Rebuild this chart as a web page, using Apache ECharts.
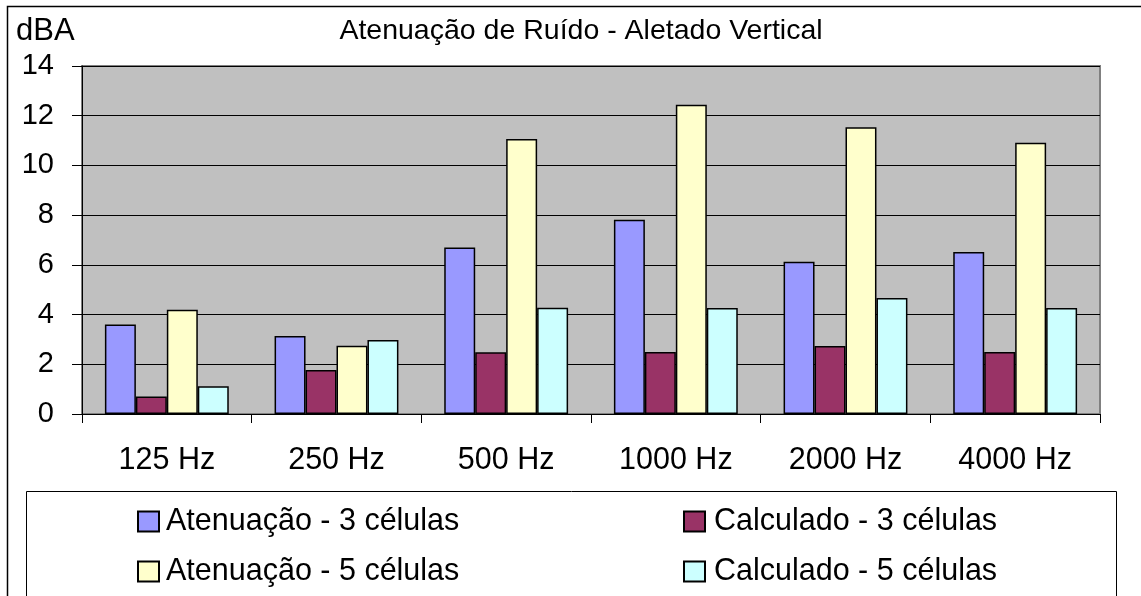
<!DOCTYPE html>
<html>
<head>
<meta charset="utf-8">
<script src="https://cdn.jsdelivr.net/npm/echarts@6/dist/echarts.min.js"></script>
<style>html,body{margin:0;padding:0;background:#fff}#c{width:1141px;height:596px}</style>
</head>
<body>
<div id="c"></div>
<script>
const categories = ['125 Hz', '250 Hz', '500 Hz', '1000 Hz', '2000 Hz', '4000 Hz'];
const atenuacao3 = [3.6, 3.14, 6.7, 7.81, 6.13, 6.52];
const calculado3 = [0.7, 1.77, 2.48, 2.49, 2.74, 2.49];
const atenuacao5 = [4.19, 2.75, 11.06, 12.44, 11.54, 10.91];
const calculado5 = [1.12, 2.98, 4.27, 4.26, 4.67, 4.26];
const seriesNames = ['Atenuação - 3 células', 'Calculado - 3 células', 'Atenuação - 5 células', 'Calculado - 5 células'];
const yTicks = { min: 0, max: 14, interval: 2 };

const FONT = '"Liberation Sans", Arial, sans-serif';
const colors = ['#9999FF', '#993366', '#FFFFCC', '#CCFFFF'];
const dataSets = [atenuacao3, calculado3, atenuacao5, calculado5];

const chart = echarts.init(document.getElementById('c'), null, { renderer: 'canvas' });

const legendPos = [
  { left: 137, top: 506, gap: 7 },
  { left: 683, top: 506, gap: 9 },
  { left: 137, top: 556, gap: 7 },
  { left: 683, top: 556, gap: 9 }
];

const option = {
  animation: false,
  backgroundColor: '#ffffff',
  textStyle: { fontFamily: FONT, color: '#000' },
  grid: {
    left: 82, top: 66, right: 41, bottom: 182,
    show: true, backgroundColor: '#c0c0c0', borderColor: '#808080', borderWidth: 2
  },
  xAxis: {
    type: 'category',
    data: categories,
    axisLine: { show: true, lineStyle: { color: '#000', width: 1 } },
    axisTick: { show: true, length: 9, lineStyle: { color: '#000' } },
    axisLabel: { fontSize: 30.5, color: '#000', fontFamily: FONT, margin: 31 },
    splitLine: { show: false }
  },
  yAxis: {
    type: 'value',
    min: yTicks.min, max: yTicks.max, interval: yTicks.interval,
    axisLine: { show: true, lineStyle: { color: '#000', width: 1 } },
    axisTick: { show: true, length: 10, lineStyle: { color: '#000' } },
    axisLabel: { fontSize: 29, color: '#000', fontFamily: FONT, margin: 28 },
    splitLine: { show: true, lineStyle: { color: '#000', width: 1 } }
  },
  legend: seriesNames.map((n, i) => ({
    data: [n],
    left: legendPos[i].left,
    top: legendPos[i].top,
    padding: 0,
    icon: 'rect',
    itemWidth: 21,
    itemHeight: 20,
    selectedMode: false,
    textStyle: { fontSize: 30.5, color: '#000', fontFamily: FONT, padding: [0, 0, 0, legendPos[i].gap - 5] }
  })),
  graphic: [
    { type: 'rect', shape: { x: 7.5, y: 6.5, width: 1150, height: 610 }, style: { fill: 'none', stroke: '#000', lineWidth: 1.5 }, silent: true, z: -1 },
    { type: 'rect', shape: { x: 26.5, y: 491.5, width: 1090, height: 120 }, style: { fill: 'none', stroke: '#000', lineWidth: 1 }, silent: true },
    { type: 'text', left: 16, top: 16, style: { text: 'dBA', font: '31px ' + FONT, fill: '#000' } },
    { type: 'text', x: 581, y: 17, style: { text: 'Atenuação de Ruído - Aletado Vertical', font: '28.5px ' + FONT, fill: '#000', textAlign: 'center', textVerticalAlign: 'top' } }
  ],
  series: seriesNames.map((n, i) => ({
    name: n,
    type: 'bar',
    data: dataSets[i],
    barGap: '0%',
    barCategoryGap: '27%',
    itemStyle: { color: colors[i], borderColor: '#000', borderWidth: 1.5 }
  }))
};
chart.setOption(option);
</script>
</body>
</html>
